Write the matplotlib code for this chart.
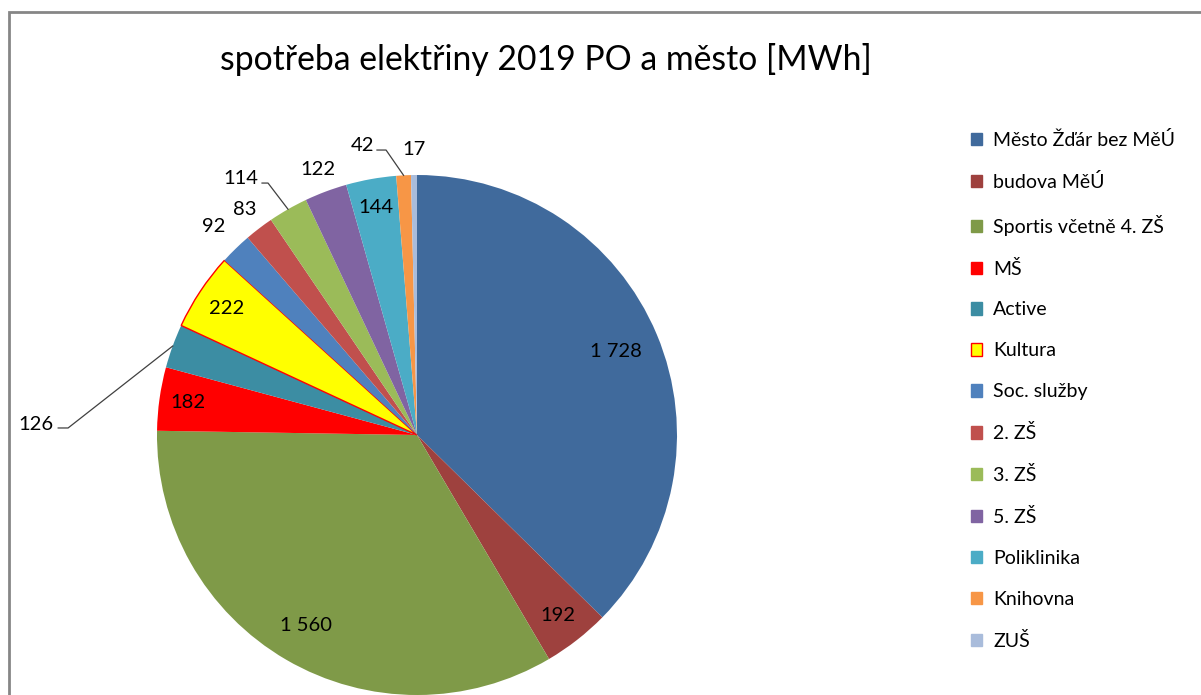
import numpy as np
import matplotlib
matplotlib.use("Agg")
import matplotlib.pyplot as plt
from matplotlib.patches import Patch, Rectangle

# ---- data ----
categories = ["Město Žďár bez MěÚ", "budova MěÚ", "Sportis včetně 4. ZŠ", "MŠ", "Active",
              "Kultura", "Soc. služby", "2. ZŠ", "3. ZŠ", "5. ZŠ", "Poliklinika",
              "Knihovna", "ZUŠ"]
values = [1728, 192, 1560, 182, 126, 222, 92, 83, 114, 122, 144, 42, 17]
value_labels = ["1 728", "192", "1 560", "182", "126", "222", "92", "83", "114", "122",
                "144", "42", "17"]
title = "spotřeba elektřiny 2019 PO a město [MWh]"

# ---- style ----
colors = ["#406A9C", "#9E413E", "#7F9A48", "#FF0000", "#3C8DA3", "#FFFF00", "#4F81BD",
          "#C0504D", "#9BBB59", "#8064A2", "#4BACC6", "#F79646", "#A9BCDB"]
edgecolors = [None] * len(values)
edgecolors[5] = "#FF0000"
# label radius (fraction of pie radius) for labels placed directly
label_r = [0.83, 0.88, 0.85, 0.89, None, 0.88, 1.12, 1.09, None, 1.09, 0.89, None, 1.10]
# leader-line labels: (elbow x, elbow y, end x, text x, text y) in pie units
leaders = {4: (-1.342, 0.027, -1.38, -1.40, 0.04),
           8: (-0.573, 0.969, -0.596, -0.61, 0.985),
           11: (-0.119, 1.096, -0.154, -0.165, 1.115)}

W, H = 1201, 695
cx, cy, R = 417, 435, 260
plt.rcParams['font.family'] = ['Lato', 'DejaVu Sans']

fig = plt.figure(figsize=(W / 100, H / 100), dpi=100)
ax = fig.add_axes([0, 0, 1, 1])

wedges, _ = ax.pie(values, colors=colors, startangle=90, counterclock=False,
                   radius=1.0, center=(0, 0), frame=True,
                   wedgeprops=dict(linewidth=0))
ax.set_xlim(-cx / R, (W - cx) / R)
ax.set_ylim(-(H - cy) / R, cy / R)
ax.set_aspect('auto')
ax.axis("off")
for w, ec in zip(wedges, edgecolors):
    if ec:
        w.set_edgecolor(ec)
        w.set_linewidth(1.0)

lab_fs = 14.5
for i, w in enumerate(wedges):
    ang = np.deg2rad((w.theta1 + w.theta2) / 2)
    if i in leaders:
        ex, ey, endx, tx, ty = leaders[i]
        px, py = np.cos(ang), np.sin(ang)
        ax.plot([px, ex, endx], [py, ey, ey], color="#404040", lw=0.9)
        ax.text(tx, ty, value_labels[i], ha="right", va="center", fontsize=lab_fs,
                color="black")
    else:
        r = label_r[i]
        ax.text(r * np.cos(ang), r * np.sin(ang), value_labels[i], ha="center",
                va="center", fontsize=lab_fs, color="black")

fig.text(546 / W, 1 - 60 / H, title, ha="center", va="center", fontsize=24.3,
         color="black")

handles = [Patch(facecolor=c, edgecolor=(ec if ec else c), linewidth=1)
           for c, ec in zip(colors, edgecolors)]
leg = fig.legend(handles, categories, loc="upper left",
                 bbox_to_anchor=(963 / W, 1 - 123 / H), frameon=False,
                 fontsize=14, handlelength=0.6, handleheight=0.6,
                 handletextpad=0.55, labelspacing=1.23, borderaxespad=0)

# chart border
fig.patches.append(Rectangle((9 / W, -0.1), 1.2, (1 - 12 / H) + 0.1,
                             transform=fig.transFigure, fill=False,
                             edgecolor="#868686", linewidth=2))

fig.savefig("out.png", dpi=100)
